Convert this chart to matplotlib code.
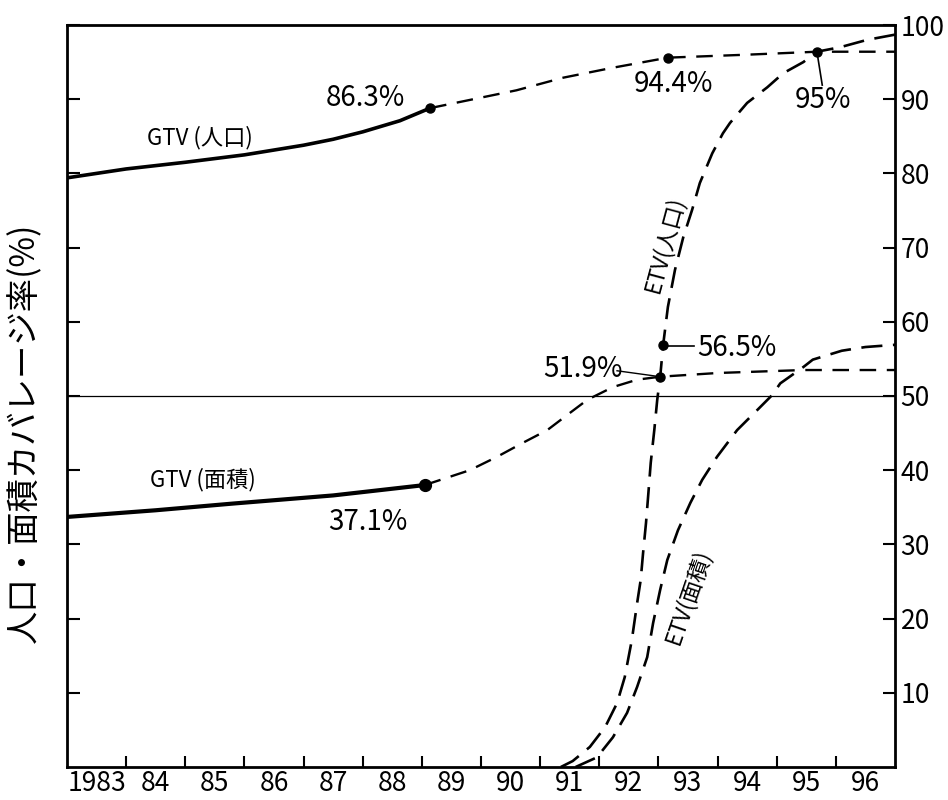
import matplotlib
matplotlib.use("Agg")
import matplotlib.pyplot as plt
import numpy as np

plt.rcParams['font.family'] = ['Liberation Sans Narrow', 'Noto Sans CJK JP', 'DejaVu Sans']

# 年 (横軸), カバレージ率 (縦軸, %)
years_lab = ['1983', '84', '85', '86', '87', '88', '89', '90', '91', '92', '93', '94', '95', '96']

gtv_pop_x = [1983.0, 1984.0, 1985.0, 1986.0, 1987.0, 1987.5, 1988.0, 1988.63, 1989.14]
gtv_pop_y = [79.4, 80.6, 81.5, 82.5, 83.8, 84.6, 85.6, 87.1, 88.8]
gtv_pop_fx = [1989.14, 1989.81, 1990.6, 1991.39, 1992.2, 1993.16, 1994.5, 1995.68, 1997.0]
gtv_pop_fy = [88.8, 89.9, 91.2, 92.9, 94.2, 95.6, 96.0, 96.4, 96.4]

gtv_area_x = [1983.0, 1984.5, 1985.8, 1987.5, 1989.05]
gtv_area_y = [33.7, 34.6, 35.5, 36.6, 38.0]
gtv_area_fx = [1989.05, 1989.81, 1990.27, 1990.71, 1991.12, 1991.5, 1991.8, 1992.23,
               1992.64, 1993.03, 1994.0, 1995.45, 1997.0]
gtv_area_fy = [38.0, 40.0, 41.8, 43.7, 45.4, 47.7, 49.5, 51.2, 52.2, 52.6, 53.1, 53.5, 53.5]

etv_pop_x = [1991.35, 1991.55, 1991.84, 1992.1, 1992.3, 1992.43, 1992.55, 1992.64, 1992.7,
             1992.74, 1992.79, 1992.83, 1992.87, 1992.93, 1992.98, 1993.03, 1993.08, 1993.16,
             1993.28, 1993.42, 1993.57, 1993.7, 1993.91, 1994.09, 1994.21, 1994.5, 1994.84,
             1995.11, 1995.45, 1995.68, 1996.07, 1996.53, 1997.0]
etv_pop_y = [0.0, 0.8, 2.7, 5.4, 8.6, 12.1, 17.1, 22.1, 25.2, 28.8, 32.9, 36.9, 41.0, 45.4,
             49.5, 52.6, 56.9, 62.0, 67.0, 71.4, 75.1, 78.7, 82.7, 85.4, 86.8, 89.5, 91.6,
             93.5, 95.0, 96.4, 97.0, 98.0, 98.7]

etv_area_x = [1991.6, 1991.96, 1992.23, 1992.47, 1992.64, 1992.81, 1992.91, 1993.03, 1993.15,
              1993.33, 1993.54, 1993.74, 1993.99, 1994.33, 1994.67, 1994.92, 1995.06, 1995.45,
              1995.61, 1996.1, 1996.5, 1997.0]
etv_area_y = [0.0, 1.3, 4.0, 7.3, 10.8, 14.8, 19.4, 23.9, 27.9, 31.9, 35.6, 38.7, 41.8, 45.4,
              48.1, 50.1, 51.7, 53.9, 54.9, 56.1, 56.6, 56.9]

dots_x = [1989.14, 1993.16, 1995.68, 1993.03, 1993.08]
dots_y = [88.8, 95.6, 96.4, 52.6, 56.9]
dot_area_x = [1989.05]
dot_area_y = [38.0]

fig = plt.figure(figsize=(9.48, 8), dpi=100)
ax = fig.add_axes([67 / 948, 33 / 800, 828 / 948, 742 / 800])

ax.axhline(50, color='black', lw=0.9)

ax.plot(gtv_pop_x, gtv_pop_y, color='black', lw=2.6, solid_capstyle='round')
ax.plot(gtv_pop_fx, gtv_pop_fy, color='black', lw=1.7, dashes=(7, 4.5))
ax.plot(gtv_area_x, gtv_area_y, color='black', lw=3.0, solid_capstyle='round')
ax.plot(gtv_area_fx, gtv_area_fy, color='black', lw=1.7, dashes=(7, 4.5))
ax.plot(etv_pop_x, etv_pop_y, color='black', lw=1.9, dashes=(8, 4))
ax.plot(etv_area_x, etv_area_y, color='black', lw=1.9, dashes=(8, 4))

ax.plot(dots_x, dots_y, 'o', color='black', ms=6.5)
ax.plot(dot_area_x, dot_area_y, 'o', color='black', ms=8.5)

# 注記
fs = 20
ax.text(1988.04, 90.2, '86.3%', fontsize=fs, ha='center', va='center')
ax.text(1993.26, 92.0, '94.4%', fontsize=fs, ha='center', va='center')
ax.text(1995.78, 89.9, '95%', fontsize=fs, ha='center', va='center')
ax.plot([1995.68, 1995.77], [96.4, 91.9], color='black', lw=1.2)
ax.text(1993.65, 56.5, '56.5%', fontsize=fs, ha='left', va='center')
ax.plot([1993.16, 1993.6], [56.7, 56.7], color='black', lw=1.2)
ax.text(1991.73, 53.6, '51.9%', fontsize=fs, ha='center', va='center')
ax.plot([1992.3, 1993.03], [53.4, 52.6], color='black', lw=1.0)
ax.text(1988.09, 33.0, '37.1%', fontsize=fs, ha='center', va='center')

ax.text(1985.25, 84.8, 'GTV (人口)', fontsize=16, ha='center', va='center')
ax.text(1985.3, 38.7, 'GTV (面積)', fontsize=16, ha='center', va='center')
ax.text(1993.11, 70.4, 'ETV(人口)', fontsize=16, ha='center', va='center', rotation=75)
ax.text(1993.5, 22.9, 'ETV(面積)', fontsize=16, ha='center', va='center', rotation=71)

ax.set_xlim(1983, 1997)
ax.set_ylim(0, 100)

ax.set_xticks(np.arange(1983, 1997) + 0.5, years_lab)
ax.set_xticks(np.arange(1984, 1997), minor=True)
ax.tick_params(axis='x', which='major', length=0, pad=2, labelsize=19)
ax.tick_params(axis='x', which='minor', length=8, width=1.5, direction='in')

ax.set_yticks(np.arange(10, 101, 10))
ax.tick_params(axis='y', left=True, right=True, labelleft=False, labelright=True,
               direction='in', length=9, width=1.5, pad=4, labelsize=19)

for s in ax.spines.values():
    s.set_linewidth(2.0)

fig.text(25 / 948, 1 - 433 / 800, '人口・面積カバレージ率(%)', rotation=90,
         fontsize=24, ha='center', va='center', family=['Noto Sans CJK JP', 'DejaVu Sans'])

fig.savefig('out.png', dpi=100)
